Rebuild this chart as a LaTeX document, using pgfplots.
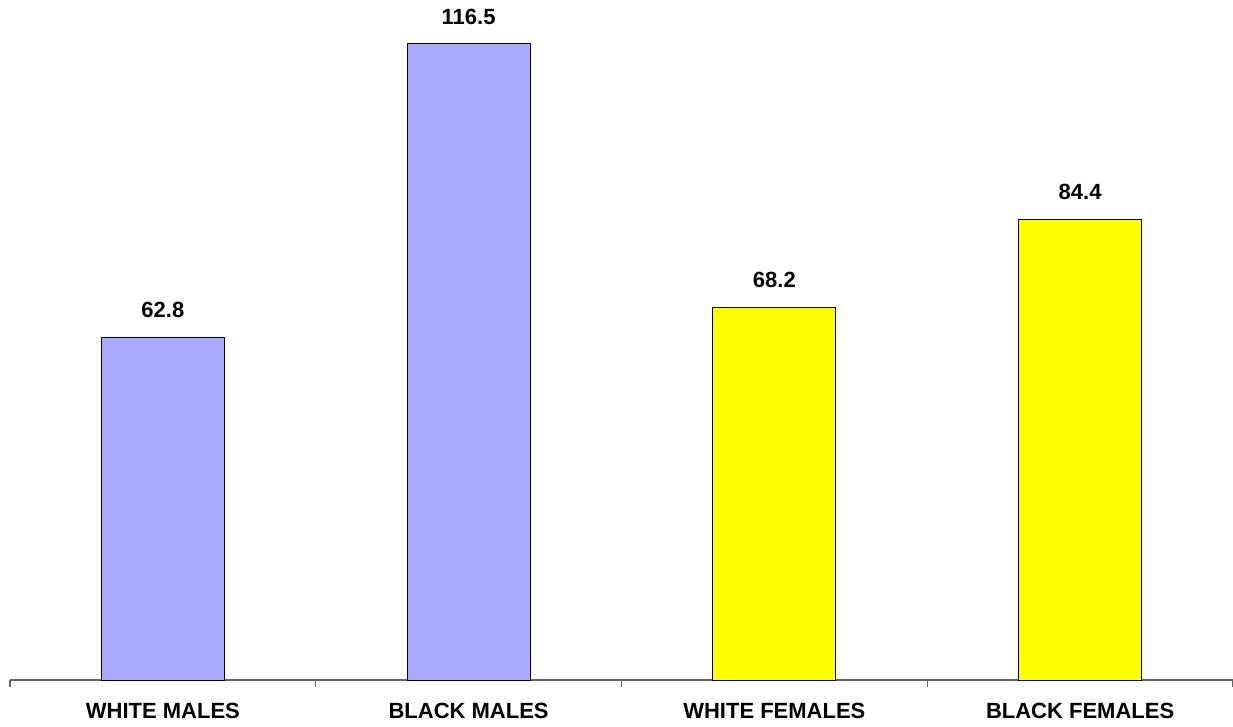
\documentclass[border=0pt]{standalone}
\usepackage{fontspec}
\setmainfont{Liberation Sans}
\usepackage{pgfplots}
\pgfplotsset{compat=1.18}
\definecolor{barblue}{RGB}{170,170,255}
\definecolor{baryellow}{RGB}{255,255,0}
\definecolor{axisgray}{RGB}{100,100,100}
\begin{document}
\begin{tikzpicture}
\useasboundingbox (0,0) rectangle (924.75pt,544.5pt);
\begin{axis}[
  at={(7.5pt,34.5pt)}, anchor=south west,
  width=917.25pt, height=510pt, scale only axis,
  xmin=-0.5, xmax=3.5, ymin=0, ymax=124.5,
  axis x line=bottom, axis y line=none,
  x axis line style={-, draw=axisgray, line width=0.8pt},
  xtick={0,1,2,3},
  xticklabels={WHITE MALES,BLACK MALES,WHITE FEMALES,BLACK FEMALES},
  major tick length=0pt,
  minor xtick={-0.5,0.5,1.5,2.5,3.5},
  minor tick length=5.25pt,
  tick align=outside,
  tick style={draw=axisgray, line width=0.8pt},
  xticklabel style={font=\bfseries\fontsize{16.5}{16.5}\selectfont, anchor=north, inner sep=0pt, yshift=-17.25pt},
  ybar, bar width=92.25pt,
  nodes near coords, point meta=explicit symbolic,
  every node near coord/.append style={font=\bfseries\fontsize{16.5}{16.5}\selectfont, anchor=south, inner sep=0pt, yshift=14.25pt},
  clip=false,
]
\addplot[bar shift=0pt, fill=barblue, draw=black, line width=0.6pt] coordinates {(0,62.8) [62.8] (1,116.5) [116.5]};
\addplot[bar shift=0pt, fill=baryellow, draw=black, line width=0.6pt] coordinates {(2,68.2) [68.2] (3,84.4) [84.4]};
\end{axis}
\end{tikzpicture}
\end{document}
